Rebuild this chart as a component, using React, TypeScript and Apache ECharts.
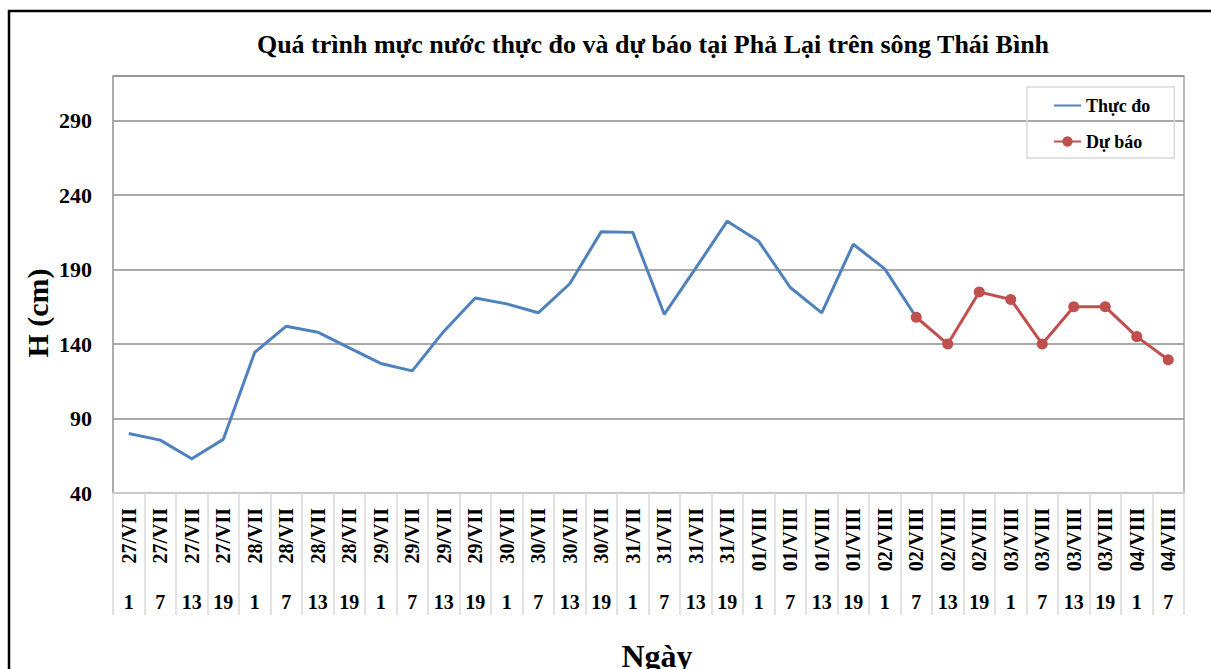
import React, { useEffect, useRef } from "react";
import * as echarts from "echarts";

const dateLabels = [
  "27/VII", "27/VII", "27/VII", "27/VII",
  "28/VII", "28/VII", "28/VII", "28/VII",
  "29/VII", "29/VII", "29/VII", "29/VII",
  "30/VII", "30/VII", "30/VII", "30/VII",
  "31/VII", "31/VII", "31/VII", "31/VII",
  "01/VIII", "01/VIII", "01/VIII", "01/VIII",
  "02/VIII", "02/VIII", "02/VIII", "02/VIII",
  "03/VIII", "03/VIII", "03/VIII", "03/VIII",
  "04/VIII", "04/VIII",
];
const hourLabels = [
  "1", "7", "13", "19", "1", "7", "13", "19", "1", "7", "13", "19",
  "1", "7", "13", "19", "1", "7", "13", "19", "1", "7", "13", "19",
  "1", "7", "13", "19", "1", "7", "13", "19", "1", "7",
];
// Observed (Thực đo): indices 0..25
const observed = [
  80, 75.5, 63, 76, 134.5, 152, 148, 137.5, 127, 122, 148.5, 171,
  167, 161, 180.5, 215.5, 215, 160, 191, 222.5, 209, 178, 161, 207,
  190.5, 158,
];
// Forecast (Dự báo): indices 25..33
const forecast = [158, 140, 175, 170, 140, 165, 165, 145, 129.5];

const FONT = "'Liberation Serif', 'Times New Roman', serif";

export default function App() {
  const ref = useRef<HTMLDivElement>(null);
  useEffect(() => {
    if (!ref.current) return;
    const chart = echarts.init(ref.current, null, { renderer: "svg" });
    const obsData = dateLabels.map((_, i) => (i < observed.length ? observed[i] : null));
    const fcStart = dateLabels.length - forecast.length;
    const fcData = dateLabels.map((_, i) => (i >= fcStart ? forecast[i - fcStart] : null));
    const gridPos = { left: 113, right: 27, top: 76, bottom: 176 };
    chart.setOption({
      animation: false,
      backgroundColor: "#ffffff",
      textStyle: { fontFamily: FONT },
      grid: [
        { ...gridPos, show: true, borderColor: "#a6a6a6", borderWidth: 1.5, backgroundColor: "transparent" },
        { ...gridPos, show: false },
      ],
      legend: {
        orient: "vertical",
        left: 1027,
        top: 87,
        padding: [8, 24, 6, 26],
        itemWidth: 27,
        itemHeight: 13,
        itemGap: 15,
        borderColor: "#d9d9d9",
        borderWidth: 1.5,
        backgroundColor: "transparent",
        textStyle: { fontFamily: FONT, fontWeight: "bold", fontSize: 18, color: "#000", lineHeight: 21 },
        data: [
          { name: "Thực đo", itemStyle: { opacity: 0 } },
          { name: "Dự báo" },
        ],
      },
      xAxis: [
        {
          type: "category",
          gridIndex: 0,
          data: dateLabels,
          boundaryGap: true,
          axisLine: { show: true, lineStyle: { color: "#d9d9d9", width: 1.5 } },
          axisTick: { show: true, interval: 0, length: 122, lineStyle: { color: "#d9d9d9", width: 1.5 } },
          axisLabel: {
            interval: 0,
            rotate: 90,
            margin: 15,
            fontFamily: FONT,
            fontWeight: "bold",
            fontSize: 20,
            color: "#000",
          },
          splitLine: { show: false },
        },
        {
          type: "category",
          gridIndex: 1,
          data: hourLabels,
          boundaryGap: true,
          position: "bottom",
          axisLine: { show: false },
          axisTick: { show: false },
          axisLabel: {
            interval: 0,
            margin: 99,
            fontFamily: FONT,
            fontWeight: "bold",
            fontSize: 20,
            color: "#000",
          },
          splitLine: { show: false },
        },
      ],
      yAxis: [
        {
          type: "value",
          gridIndex: 0,
          min: 40,
          max: 320,
          interval: 50,
          axisLine: { show: true, lineStyle: { color: "#a6a6a6", width: 1.5 } },
          axisTick: { show: false },
          axisLabel: {
            showMaxLabel: false,
            margin: 21,
            fontFamily: FONT,
            fontWeight: "bold",
            fontSize: 22,
            color: "#000",
          },
          splitLine: { show: true, lineStyle: { color: "#8c8c8c", width: 1.5 } },
        },
        { type: "value", gridIndex: 1, show: false, min: 40, max: 320 },
      ],
      series: [
        {
          name: "Thực đo",
          type: "line",
          xAxisIndex: 0,
          yAxisIndex: 0,
          data: obsData,
          symbol: "none",
          lineStyle: { color: "#4f81bd", width: 3 },
          itemStyle: { color: "#4f81bd" },
          z: 3,
        },
        {
          name: "Dự báo",
          type: "line",
          xAxisIndex: 0,
          yAxisIndex: 0,
          data: fcData,
          symbol: "circle",
          symbolSize: 11,
          lineStyle: { color: "#c0504d", width: 3 },
          itemStyle: { color: "#c0504d" },
          z: 4,
        },
      ],
      graphic: [
        {
          type: "rect",
          shape: { x: 9, y: 11, width: 1400, height: 900 },
          style: { fill: "transparent", stroke: "#000", lineWidth: 2.5 },
          silent: true,
          z: 100,
        },
        {
          type: "text",
          x: 653,
          y: 44,
          style: {
            text: "Quá trình mực nước thực đo và dự báo tại Phả Lại trên sông Thái Bình",
            font: `bold 26px ${FONT}`,
            fill: "#000",
            textAlign: "center",
            textVerticalAlign: "middle",
          },
        },
        {
          type: "text",
          x: 37,
          y: 313,
          rotation: Math.PI / 2,
          style: {
            text: "H (cm)",
            font: `bold 30px ${FONT}`,
            fill: "#000",
            textAlign: "center",
            textVerticalAlign: "middle",
          },
        },
        {
          type: "text",
          x: 657,
          y: 656,
          style: {
            text: "Ngày",
            font: `bold 32px ${FONT}`,
            fill: "#000",
            textAlign: "center",
            textVerticalAlign: "middle",
          },
        },
      ],
    });
    return () => chart.dispose();
  }, []);
  return (
    <div
      ref={ref}
      style={{ position: "absolute", left: 0, top: 0, width: 1211, height: 669 }}
    />
  );
}
